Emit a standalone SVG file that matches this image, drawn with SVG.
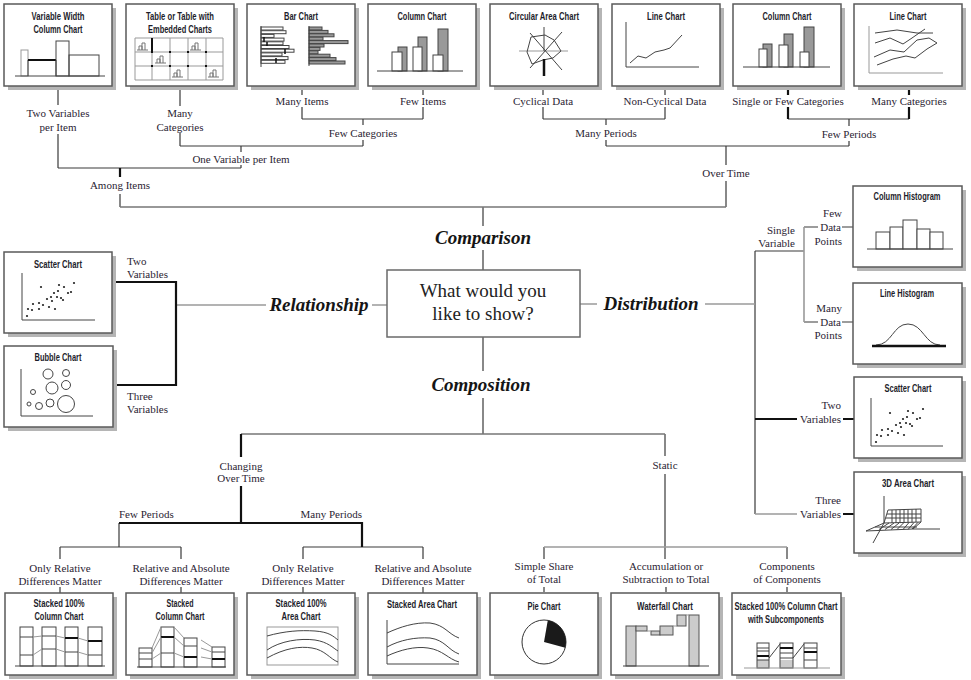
<svg xmlns="http://www.w3.org/2000/svg" width="971" height="680" viewBox="0 0 971 680">
<style>
.sh{fill:#b5b5b5}
.bx{fill:#fff;stroke:#5a5a5a;stroke-width:1.5}
.cb{fill:#fff;stroke:#6a6a6a;stroke-width:1.5}
.t{font-family:"Liberation Sans Narrow","Liberation Sans",Arial,sans-serif;font-weight:bold;font-size:11px;fill:#1d1d2b;text-anchor:middle}
.l{font-family:"Liberation Serif","Times New Roman",serif;font-size:11px;fill:#2b2433;text-anchor:middle}
.e{text-anchor:end}
.s{text-anchor:start}
.c{font-family:"Liberation Serif","Times New Roman",serif;font-weight:bold;font-style:italic;font-size:19px;fill:#151515;text-anchor:middle}
.q{font-family:"Liberation Serif","Times New Roman",serif;font-size:19px;fill:#222;text-anchor:middle}
.ln{stroke:#3a3a3a;stroke-width:1.2;fill:none}
.lm{stroke:#777;stroke-width:1.4;fill:none}
.lg{stroke:#9a9a9a;stroke-width:1.6;fill:none}
.lb{stroke:#111;stroke-width:2.2;fill:none}
.k{stroke:#444;stroke-width:1;fill:none}
.kg{stroke:#999;stroke-width:1;fill:none}
.kb{stroke:#111;stroke-width:2;fill:none}
.w{fill:#fff;stroke:#444;stroke-width:1}
.d{fill:#999;stroke:#444;stroke-width:1}
.f{fill:#ccc;stroke:#555;stroke-width:1}
.dot{fill:#222}
</style>
<defs>
<path id="mini" d="M0,8H11M2,8V4H5V8M5,8V1H8V8" fill="none" stroke="#777" stroke-width="1"/>
<g id="dots" class="dot">
<circle cx="27" cy="316" r="1.1"/><circle cx="28" cy="309" r="1.1"/><circle cx="32" cy="310" r="1.1"/><circle cx="33" cy="304" r="1.1"/><circle cx="39" cy="309" r="1.1"/><circle cx="39" cy="303" r="1.1"/><circle cx="41" cy="287" r="1.1"/><circle cx="43" cy="305" r="1.1"/><circle cx="47" cy="299" r="1.1"/><circle cx="49" cy="307" r="1.1"/><circle cx="51" cy="297" r="1.1"/><circle cx="52" cy="301" r="1.1"/><circle cx="54" cy="293" r="1.1"/><circle cx="55" cy="309" r="1.1"/><circle cx="57" cy="297" r="1.1"/><circle cx="58" cy="291" r="1.1"/><circle cx="59" cy="285" r="1.1"/><circle cx="61" cy="298" r="1.1"/><circle cx="63" cy="300" r="1.1"/><circle cx="64" cy="287" r="1.1"/><circle cx="68" cy="293" r="1.1"/><circle cx="71" cy="292" r="1.1"/><circle cx="74" cy="283" r="1.1"/>
</g>
</defs>
<rect width="971" height="680" fill="#fff"/>

<g id="connectors">
<path class="ln" d="M58,86V105M58,134V168M58,168H241M241,146V152M241,165V168M180,86V106M180,133V146M180,146H363M363,119V125M363,140V146M302,86V95M302,107V119M302,119H423M423,86V95M423,107V119M120,194V207M543,86V95M543,107V119M543,119H665M665,86V95M665,107V119M606,119V125M606,140V146M606,146H849M788,119H909M849,119V126M849,141V146M726,146V165M726,181V207M483,207V226M483,250V270M755,251V514M755,251H804M804,227H818M842,227H853M804,322H818M842,322H853M483,337V371M483,398V434M119,523V547M60,547H181M60,547V559M60,587V593M181,547V559M181,587V593M303,547H423M303,547V559M303,587V593M423,547V559M423,587V593M665,434V456M665,474V547M544,547V559M544,587V592M665,547V559M666,587V592M787,547V559M787,587V592"/>
<path class="lm" d="M120,207H726M241,434H665"/>
<path class="lg" d="M176,305H266M372,305H387M580,304H597M705,304H755M804,227V322M755,514H797M544,547H787"/>
<path class="lb" d="M788,86V95M788,107V119M909,86V95M909,107V119M120,168V177M112,282H176V385H113M241,434V457M241,486V523M119,523H362V547M755,419H797M843,419H854M843,514H854"/>
</g>

<g id="labels">
<text class="l" x="58" y="117">Two Variables</text><text class="l" x="58" y="131">per Item</text>
<text class="l" x="180" y="117">Many</text><text class="l" x="180" y="131">Categories</text>
<text class="l" x="302" y="105">Many Items</text>
<text class="l" x="423" y="105">Few Items</text>
<text class="l" x="363" y="137">Few Categories</text>
<text class="l" x="241" y="163">One Variable per Item</text>
<text class="l" x="120" y="189">Among Items</text>
<text class="l" x="543" y="105">Cyclical Data</text>
<text class="l" x="665" y="105">Non-Cyclical Data</text>
<text class="l" x="606" y="137">Many Periods</text>
<text class="l" x="788" y="105">Single or Few Categories</text>
<text class="l" x="909" y="105">Many Categories</text>
<text class="l" x="849" y="138">Few Periods</text>
<text class="l" x="726" y="177">Over Time</text>
<text class="c" x="483" y="244">Comparison</text>
<text class="c" x="319" y="311">Relationship</text>
<text class="c" x="651" y="310">Distribution</text>
<text class="c" x="481" y="391">Composition</text>
<text class="l s" x="127" y="265">Two</text><text class="l s" x="127" y="278">Variables</text>
<text class="l s" x="127" y="400">Three</text><text class="l s" x="127" y="413">Variables</text>
<text class="l e" x="795" y="234">Single</text><text class="l e" x="795" y="247">Variable</text>
<text class="l e" x="842" y="217">Few</text><text class="l e" x="841" y="231">Data</text><text class="l e" x="842" y="245">Points</text>
<text class="l e" x="842" y="312">Many</text><text class="l e" x="841" y="326">Data</text><text class="l e" x="842" y="339">Points</text>
<text class="l e" x="841" y="409">Two</text><text class="l e" x="841" y="423">Variables</text>
<text class="l e" x="841" y="504">Three</text><text class="l e" x="841" y="518">Variables</text>
<text class="l" x="241" y="470">Changing</text><text class="l" x="241" y="482">Over Time</text>
<text class="l s" x="119" y="518">Few Periods</text>
<text class="l e" x="362" y="518">Many Periods</text>
<text class="l" x="60" y="572">Only Relative</text><text class="l" x="60" y="585">Differences Matter</text>
<text class="l" x="181" y="572">Relative and Absolute</text><text class="l" x="181" y="585">Differences Matter</text>
<text class="l" x="303" y="572">Only Relative</text><text class="l" x="303" y="585">Differences Matter</text>
<text class="l" x="423" y="572">Relative and Absolute</text><text class="l" x="423" y="585">Differences Matter</text>
<text class="l" x="665" y="469">Static</text>
<text class="l" x="544" y="570">Simple Share</text><text class="l" x="544" y="583">of Total</text>
<text class="l" x="666" y="570">Accumulation or</text><text class="l" x="666" y="583">Subtraction to Total</text>
<text class="l" x="787" y="570">Components</text><text class="l" x="787" y="583">of Components</text>
</g>

<g id="center">
<rect class="cb" x="387" y="270" width="193" height="67"/>
<text class="q" x="483" y="297">What would you</text>
<text class="q" x="483" y="320">like to show?</text>
</g>

<g id="variable-width-column-chart">
<rect class="sh" x="8" y="8" width="108" height="82"/><rect class="bx" x="4" y="4" width="108" height="82"/>
<text class="t" x="58" y="20" textLength="53" lengthAdjust="spacingAndGlyphs">Variable Width</text>
<text class="t" x="58" y="33" textLength="49" lengthAdjust="spacingAndGlyphs">Column Chart</text>
<rect class="kg" x="21" y="50" width="7" height="26"/>
<path class="k" d="M28,60V76M56,60V76"/>
<path class="kb" d="M28,60H56" stroke-width="1.5"/>
<rect class="k" x="56" y="41" width="13" height="35"/>
<rect class="k" x="69" y="55" width="30" height="21"/>
<path class="k" d="M15,76H105"/>
</g>

<g id="table-chart">
<rect class="sh" x="130" y="8" width="108" height="82"/><rect class="bx" x="126" y="4" width="108" height="82"/>
<text class="t" x="180" y="20" textLength="68" lengthAdjust="spacingAndGlyphs">Table or Table with</text>
<text class="t" x="180" y="33" textLength="64" lengthAdjust="spacingAndGlyphs">Embedded Charts</text>
<path class="kg" stroke="#aaa" d="M135,38V80M152,38V80M170,38V80M188,38V80M206,38V80M223,38V80M135,38H223M135,52H223M135,66H223M135,80H223"/>
<path class="kb" d="M152,38V52"/>
<g fill="#111"><rect x="151" y="51" width="2" height="2"/><rect x="169" y="51" width="2" height="2"/><rect x="187" y="51" width="2" height="2"/><rect x="205" y="51" width="2" height="2"/><rect x="151" y="65" width="2" height="2"/><rect x="169" y="65" width="2" height="2"/><rect x="187" y="65" width="2" height="2"/><rect x="205" y="65" width="2" height="2"/></g>
<use href="#mini" x="137" y="42"/><use href="#mini" x="190" y="42"/><use href="#mini" x="155" y="55"/><use href="#mini" x="172" y="69"/><use href="#mini" x="208" y="69"/>
</g>

<g id="bar-chart">
<rect class="sh" x="251" y="8" width="108" height="82"/><rect class="bx" x="247" y="4" width="108" height="82"/>
<text class="t" x="301" y="20" textLength="34" lengthAdjust="spacingAndGlyphs">Bar Chart</text>
<g class="w" stroke="#888">
<rect x="261" y="27" width="22" height="3"/><rect x="261" y="30.7" width="25" height="3"/><rect x="261" y="34.4" width="13" height="3"/><rect x="261" y="38.1" width="23" height="3"/><rect x="261" y="41.8" width="22" height="3"/><rect x="261" y="45.5" width="28" height="3"/><rect x="261" y="49.2" width="33" height="3"/><rect x="261" y="52.9" width="21" height="3"/><rect x="261" y="56.6" width="27" height="3"/><rect x="261" y="60.3" width="24" height="3"/>
</g>
<path class="k" d="M261,26V67"/>
<path stroke="#111" stroke-width="1.5" d="M264,37V42M267,42V46M285,49V54M276,58V63"/>
<g class="d">
<rect x="309" y="27" width="13" height="3"/><rect x="309" y="30.4" width="19" height="3"/><rect x="309" y="33.8" width="25" height="3"/><rect x="309" y="37.2" width="14" height="3"/><rect x="309" y="40.6" width="39" height="3"/><rect x="309" y="44" width="15" height="3"/><rect x="309" y="47.4" width="11" height="3"/><rect x="309" y="50.8" width="9" height="3"/><rect x="309" y="54.2" width="21" height="3"/><rect x="309" y="57.6" width="27" height="3"/><rect x="309" y="61" width="36" height="3"/>
</g>
<path class="k" d="M309,26V66"/>
</g>

<g id="column-chart-few-items">
<rect class="sh" x="372" y="8" width="108" height="82"/><rect class="bx" x="368" y="4" width="108" height="82"/>
<text class="t" x="422" y="20" textLength="49" lengthAdjust="spacingAndGlyphs">Column Chart</text>
<rect class="d" x="398" y="47" width="9" height="24"/><rect class="d" x="418" y="37" width="9" height="34"/><rect class="d" x="438" y="29" width="10" height="42"/>
<rect class="w" x="392" y="52" width="10" height="19"/><rect class="w" x="413" y="47" width="9" height="24"/><rect class="w" x="433" y="55" width="10" height="16"/>
<path class="k" stroke="#777" d="M377,71H463"/>
</g>

<g id="circular-area-chart">
<rect class="sh" x="494" y="8" width="108" height="82"/><rect class="bx" x="490" y="4" width="108" height="82"/>
<text class="t" x="544" y="20" textLength="70" lengthAdjust="spacingAndGlyphs">Circular Area Chart</text>
<path stroke="#bbb" stroke-width="1.5" d="M519,51H568"/>
<path class="k" stroke="#777" d="M530,33L562,70M562,32L530,68M544,27V51"/>
<polygon class="k" stroke="#333" points="531,37 545,35 554,40 561,51 553,58 543,60 532,64 527,52"/>
<path stroke="#111" stroke-width="2.5" d="M544,59V76"/>
</g>

<g id="line-chart-non-cyclical">
<rect class="sh" x="616" y="8" width="108" height="82"/><rect class="bx" x="612" y="4" width="108" height="82"/>
<text class="t" x="666" y="20" textLength="38" lengthAdjust="spacingAndGlyphs">Line Chart</text>
<path class="k" stroke="#666" d="M626,22V67H699"/>
<polyline class="k" stroke="#333" points="630,63 638,56 646,58 655,52 664,50 670,48 682,35"/>
</g>

<g id="column-chart-few-categories">
<rect class="sh" x="737" y="8" width="108" height="82"/><rect class="bx" x="733" y="4" width="108" height="82"/>
<text class="t" x="787" y="20" textLength="49" lengthAdjust="spacingAndGlyphs">Column Chart</text>
<rect class="d" x="763" y="44" width="9" height="23"/><rect class="d" x="784" y="34" width="9" height="33"/><rect class="d" x="804" y="27" width="10" height="40"/>
<rect class="w" x="759" y="49" width="8" height="18"/><rect class="w" x="779" y="45" width="9" height="22"/><rect class="w" x="800" y="52" width="9" height="15"/>
<path class="k" stroke="#777" d="M743,67H830"/>
</g>

<g id="line-chart-many-categories">
<rect class="sh" x="858" y="8" width="108" height="82"/><rect class="bx" x="854" y="4" width="108" height="82"/>
<text class="t" x="908" y="20" textLength="37" lengthAdjust="spacingAndGlyphs">Line Chart</text>
<path class="kg" stroke="#aaa" stroke-width="1.4" d="M869,26V73H943"/>
<g class="k" stroke="#333">
<polyline points="875,33 897,30 917,33 933,33"/>
<polyline points="875,43 890,38 903,44 912,38 925,29"/>
<polyline points="874,57 890,50 904,52 917,40 929,38 937,43"/>
<polyline points="877,65 893,59 906,56 915,58 927,49 937,43"/>
</g>
</g>

<g id="scatter-chart-left">
<rect class="sh" x="8" y="256" width="108" height="81"/><rect class="bx" x="4" y="252" width="108" height="81"/>
<text class="t" x="58" y="268" textLength="48" lengthAdjust="spacingAndGlyphs">Scatter Chart</text>
<path class="k" stroke="#666" d="M22,273V320H95"/>
<use href="#dots"/>
</g>

<g id="bubble-chart">
<rect class="sh" x="8" y="350" width="109" height="81"/><rect class="bx" x="4" y="346" width="109" height="81"/>
<text class="t" x="58" y="361" textLength="47" lengthAdjust="spacingAndGlyphs">Bubble Chart</text>
<path class="k" stroke="#666" d="M21,369V416H93"/>
<g class="k" stroke="#777">
<circle cx="48" cy="374" r="5"/><circle cx="66" cy="373" r="3.5"/><circle cx="52" cy="388" r="6"/><circle cx="66" cy="385" r="4.5"/><circle cx="33" cy="392" r="2.5"/><circle cx="29" cy="404" r="2"/><circle cx="39" cy="406" r="3.5"/><circle cx="50" cy="403" r="4"/><circle cx="66" cy="404" r="8.5"/>
</g>
</g>

<g id="column-histogram">
<rect class="sh" x="857" y="190" width="109" height="81"/><rect class="bx" x="853" y="186" width="109" height="81"/>
<text class="t" x="907" y="200" textLength="67" lengthAdjust="spacingAndGlyphs">Column Histogram</text>
<g class="w" stroke="#555"><rect x="876" y="232" width="14" height="17"/><rect x="890" y="227" width="13" height="22"/><rect x="903" y="220" width="14" height="29"/><rect x="917" y="229" width="13" height="20"/><rect x="930" y="232" width="13" height="17"/></g>
<path class="k" d="M867,249H953"/>
</g>

<g id="line-histogram">
<rect class="sh" x="857" y="287" width="109" height="81"/><rect class="bx" x="853" y="283" width="109" height="81"/>
<text class="t" x="907" y="297" textLength="54" lengthAdjust="spacingAndGlyphs">Line Histogram</text>
<path class="k" stroke="#333" d="M876,345C892,345 893,324 908,324C923,324 925,345 940,345"/>
<path stroke="#111" stroke-width="2.5" d="M872,346H946"/>
</g>

<g id="scatter-chart-right">
<rect class="sh" x="858" y="381" width="108" height="81"/><rect class="bx" x="854" y="377" width="108" height="81"/>
<text class="t" x="908" y="392" textLength="47" lengthAdjust="spacingAndGlyphs">Scatter Chart</text>
<path class="k" stroke="#666" d="M871,398V446H943"/>
<use href="#dots" x="849" y="126"/>
</g>

<g id="area-chart-3d">
<rect class="sh" x="858" y="476" width="108" height="81"/><rect class="bx" x="854" y="472" width="108" height="81"/>
<text class="t" x="908" y="487" textLength="52" lengthAdjust="spacingAndGlyphs">3D Area Chart</text>
<path class="k" stroke="#888" d="M884,496V523L873,543M913,529H940"/>
<path class="k" stroke="#444" stroke-width="0.8" d="M888,510L921,509L921,522L884,523ZM884,523L866,531L913,529L921,522M892,510V523M896,510V523M900,510V523M904,509.5V522.5M908,509.5V522.5M912,509.5V522.5M916,509V522M887,514H921M886,518H921M889,523L879,529.5M894,523L885,529.5M899,523L891,529.5M904,522.5L897,529.5M909,522.5L903,529.5M914,522.5L908,529.5M918,522.3L912,529M875,527H917"/>
</g>

<g id="stacked-100-column-chart">
<rect class="sh" x="9" y="597" width="108" height="82"/><rect class="bx" x="5" y="593" width="108" height="82"/>
<text class="t" x="59" y="607" textLength="51" lengthAdjust="spacingAndGlyphs">Stacked 100%</text>
<text class="t" x="59" y="620" textLength="49" lengthAdjust="spacingAndGlyphs">Column Chart</text>
<g class="k" stroke="#333"><rect x="20" y="627" width="13" height="39"/><rect x="42" y="627" width="14" height="39"/><rect x="65" y="627" width="13" height="39"/><rect x="88" y="627" width="14" height="39"/>
<path d="M20,637H33M20,655H33M42,636H56M42,649H56M65,652H78M88,655H102"/></g>
<path class="kb" d="M65,638H78M88,641H102"/>
<path class="kg" d="M33,637L42,636M33,655L42,649M56,636L65,638M56,649L65,652M78,638L88,641M78,652L88,655"/>
<path class="k" d="M15,666H105"/>
</g>

<g id="stacked-column-chart">
<rect class="sh" x="130" y="597" width="108" height="82"/><rect class="bx" x="126" y="593" width="108" height="82"/>
<text class="t" x="180" y="607" textLength="27" lengthAdjust="spacingAndGlyphs">Stacked</text>
<text class="t" x="180" y="620" textLength="49" lengthAdjust="spacingAndGlyphs">Column Chart</text>
<g class="k" stroke="#333"><rect x="139" y="648" width="13" height="19"/><rect x="161" y="627" width="13" height="40"/><rect x="184" y="638" width="13" height="29"/><rect x="212" y="647" width="13" height="20"/>
<path d="M139,653H152M139,659H152M161,653H174M184,646H197M212,652H225"/></g>
<path class="kb" d="M161,637H174M184,657H197M212,659H225"/>
<path class="kg" d="M152,648L161,627M152,653L161,637M152,659L161,653M174,627L184,638M174,637L184,646M174,653L184,657M201,640L212,647M201,648L212,652M201,657L212,659"/>
<path class="k" d="M137,667H226"/>
</g>

<g id="stacked-100-area-chart">
<rect class="sh" x="251" y="597" width="108" height="82"/><rect class="bx" x="247" y="593" width="108" height="82"/>
<text class="t" x="301" y="607" textLength="51" lengthAdjust="spacingAndGlyphs">Stacked 100%</text>
<text class="t" x="301" y="620" textLength="39" lengthAdjust="spacingAndGlyphs">Area Chart</text>
<rect class="kg" stroke="#777" x="267" y="627" width="71" height="38"/>
<path class="k" stroke="#333" d="M267,636C285,631 300,630 315,631C329,632 333,636 338,640M267,650C280,641 300,638 315,640C328,642 333,648 338,651M267,658C285,648 300,646 312,648C325,650 330,659 338,662"/>
</g>

<g id="stacked-area-chart">
<rect class="sh" x="372" y="597" width="109" height="82"/><rect class="bx" x="368" y="593" width="109" height="82"/>
<text class="t" x="422" y="608" textLength="70" lengthAdjust="spacingAndGlyphs">Stacked Area Chart</text>
<path class="k" d="M387,620V664H459"/>
<path class="k" stroke="#333" d="M387,633C400,627 415,622 430,623C445,625 448,634 459,638M387,647C400,640 415,637 430,638C445,640 448,650 459,654M387,656C400,650 415,646 428,648C443,650 448,659 459,662"/>
</g>

<g id="pie-chart">
<rect class="sh" x="494" y="597" width="108" height="82"/><rect class="bx" x="490" y="593" width="108" height="82"/>
<text class="t" x="544" y="610" textLength="33" lengthAdjust="spacingAndGlyphs">Pie Chart</text>
<circle cx="544" cy="642" r="22" fill="#fff" stroke="#333" stroke-width="1"/>
<path d="M544,642L547.8,620.3A22,22 0 0 1 565.3,647.7Z" fill="#1a1a1a"/>
</g>

<g id="waterfall-chart">
<rect class="sh" x="615" y="597" width="108" height="82"/><rect class="bx" x="611" y="593" width="108" height="82"/>
<text class="t" x="665" y="610" textLength="56" lengthAdjust="spacingAndGlyphs">Waterfall Chart</text>
<rect class="f" x="626" y="626" width="10" height="40"/><rect class="f" x="636" y="626" width="11" height="5"/><rect class="f" x="651" y="631" width="9" height="4"/><rect class="f" x="660" y="626" width="13" height="9"/><rect class="f" x="677" y="615" width="9" height="11"/><rect class="f" x="689" y="615" width="10" height="51"/>
<path class="kg" d="M647,631H651M673,626H677M686,615H689"/>
<path class="k" stroke="#777" d="M623,666H709"/>
</g>

<g id="stacked-100-column-subcomponents">
<rect class="sh" x="736" y="597" width="109" height="82"/><rect class="bx" x="732" y="593" width="109" height="82"/>
<text class="t" x="786" y="610" textLength="103" lengthAdjust="spacingAndGlyphs">Stacked 100% Column Chart</text>
<text class="t" x="786" y="623" textLength="76" lengthAdjust="spacingAndGlyphs">with Subcomponents</text>
<rect x="757" y="660" width="12" height="8" fill="#ccc"/><rect x="780" y="660" width="13" height="8" fill="#ccc"/>
<rect class="k" x="757" y="643" width="12" height="25"/><rect class="k" x="780" y="643" width="13" height="25"/><rect class="k" stroke="#999" x="804" y="643" width="13" height="25"/>
<path class="k" d="M757,648H769M757,651H769M757,660H769M780,653H793M780,658H793M804,648H817M804,660H817"/>
<path class="kb" d="M757,656H769M780,648H793M804,652H817"/>
<path class="k" d="M769,658L780,644M793,658L804,644"/>
<path class="kg" d="M744,668H830"/>
</g>
</svg>
